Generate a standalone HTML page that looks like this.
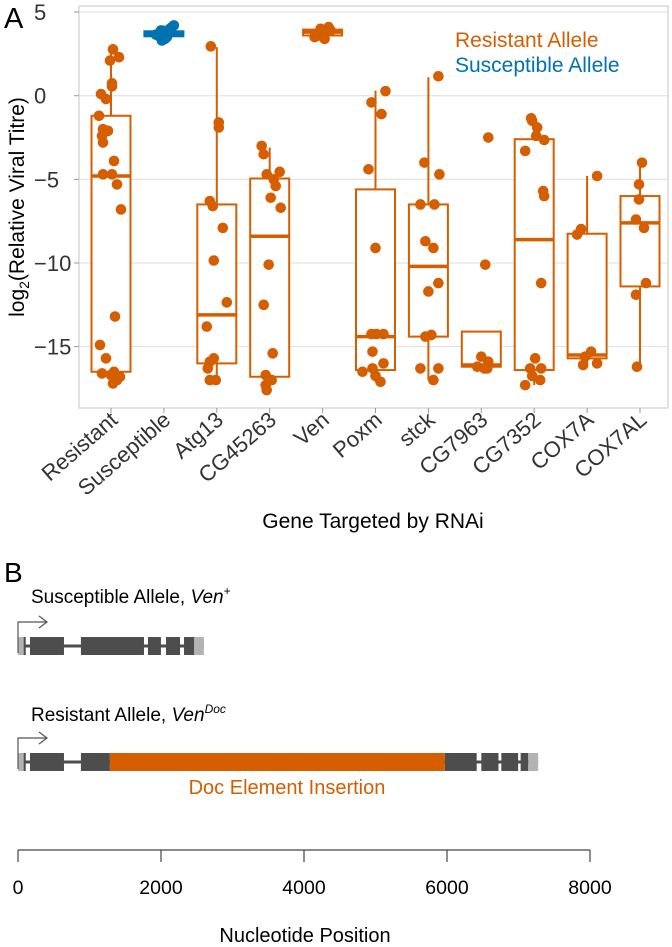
<!DOCTYPE html>
<html><head><meta charset="utf-8">
<style>
html,body{margin:0;padding:0;background:#fff;}
svg{display:block;font-family:"Liberation Sans",Arial,sans-serif;}
</style></head>
<body>
<svg id="fig" width="672" height="947" viewBox="0 0 672 947" xmlns="http://www.w3.org/2000/svg">
<text x="4" y="28" font-size="29">A</text>
<rect x="79" y="6" width="589" height="402" fill="#fff" stroke="#cfcfcf" stroke-width="1.2"/>
<g id="grid"></g>
<g id="yaxis"></g>
<g id="xaxis"></g>
<g id="boxes"></g>
<g id="points"></g>
<text transform="translate(24,207) rotate(-90)" text-anchor="middle" font-size="21">log<tspan font-size="14" dy="5">2</tspan><tspan dy="-5">(Relative Viral Titre)</tspan></text>
<text x="373" y="528" text-anchor="middle" font-size="21">Gene Targeted by RNAi</text>
<text x="455" y="47" font-size="21" fill="#D55E00">Resistant Allele</text>
<text x="455" y="72" font-size="21" fill="#0072B2">Susceptible Allele</text>

<text x="4" y="582" font-size="28">B</text>
<text x="31" y="603" font-size="19">Susceptible Allele, <tspan font-style="italic">Ven</tspan><tspan font-size="12" dy="-8">+</tspan></text>
<text x="31" y="721" font-size="19">Resistant Allele, <tspan font-style="italic">Ven</tspan><tspan font-size="12" font-style="italic" dy="-8">Doc</tspan></text>
<g id="genes"></g>
<text x="287" y="794" text-anchor="middle" font-size="20" fill="#D55E00">Doc Element Insertion</text>
<g id="ntaxis"></g>
<text x="305" y="942" text-anchor="middle" font-size="20">Nucleotide Position</text>
</svg>
<script>
const categories=["Resistant","Susceptible","Atg13","CG45263","Ven","Poxm","stck","CG7963","CG7352","COX7A","COX7AL"];
const catColors=["#D55E00","#0072B2","#D55E00","#D55E00","#D55E00","#D55E00","#D55E00","#D55E00","#D55E00","#D55E00","#D55E00"];
const yTicks=[5,0,-5,-10,-15];
const yTickLabels=["5","0","\u22125","\u221210","\u221215"];
const whiskLo=[-17.2,3.3,-17,-17.6,3.4,-17.1,-17,-16.3,-17.3,-16.1,-16.2];
const q1=[-16.5,3.55,-16,-16.8,3.6,-16.4,-14.4,-16.2,-16.4,-15.7,-11.4];
const medians=[-4.8,3.7,-13.1,-8.4,3.8,-14.4,-10.2,-16.1,-8.6,-15.5,-7.6];
const q3=[-1.2,3.85,-6.5,-4.95,3.95,-5.6,-6.5,-14.1,-2.6,-8.25,-6];
const whiskHi=[2.8,4.2,2.9,-3.1,4.1,0.3,1.1,-14.1,-1.3,-4.8,-4];
const pts0=[2.77,2.1,2.3,0.74,0.56,0.1,-0.2,-1.2,-2,-2.1,-2.4,-2.8,-3.9,-4.7,-4.7,-5.3,-6.8,-13.2,-14.9,-15.7,-16.6,-16.7,-16.5,-17,-17.2,-16.8];
const jit0=[2,-1,8,1,1,-10,-5,-12,-8,-3,-9,-8,3,-8,1,6,10,4,-11,-5,-9,0,3,6,2,9];
const pts1=[3.3,3.5,3.6,3.7,3.8,3.9,4.0,4.1,4.2,3.4,3.65,3.75];
const jit1=[-2,3,-6,0,5,-3,6,8,10,1,-8,4];
const pts2=[2.95,-1.6,-1.9,-6.3,-6.6,-7.9,-9.85,-12.35,-13.8,-15.7,-15.9,-16.3,-17,-17];
const jit2=[-6,2,2,-7,-4,6,-3,10,-10,-3,-7,-9,-7,-1];
const pts3=[-3,-3.5,-4.7,-4.55,-5,-5.4,-6.1,-6.7,-10.1,-12.5,-15.4,-16.7,-17,-17.3,-17.6];
const jit3=[-8,-6,-3,10,4,6,1,11,-1,-6,3,-4,2,-4,-3];
const pts4=[3.5,3.6,3.7,3.8,3.9,4.0,4.1,3.4];
const jit4=[-8,-4,0,4,8,-2,6,2];
const pts5=[0.27,-0.4,-1.1,-4.4,-9.1,-14.25,-14.25,-14.25,-15.3,-16,-16.3,-16.5,-16.75,-17.1];
const jit5=[10,-4,6,-7,0,-4,1,8,-3,8,-3,-13,0,5];
const pts6=[1.16,-4,-4.7,-6.5,-6.5,-8.7,-9.1,-11.2,-11.7,-14.4,-14.3,-16.3,-16.3,-17];
const jit6=[10,-4,11,-8,6,-3,5,10,0,-3,3,-8,10,5];
const pts7=[-2.5,-10.1,-15.6,-15.9,-16.2,-16.3,-16.3];
const jit7=[7,4,0,7,-4,3,6];
const pts8=[-1.35,-1.5,-1.9,-2.4,-2.65,-3.3,-5.7,-6,-11.2,-15.7,-16.3,-16.3,-16.75,-17,-17.3];
const jit8=[-3,-2,3,2,10,-9,9,10,7,1,-4,7,-2,6,-9];
const pts9=[-4.8,-7.97,-8.3,-15.3,-15.6,-16,-16.1];
const jit9=[10,-6,-10,4,-2,10,-4];
const pts10=[-4,-5.3,-6.2,-7.4,-7.9,-11.2,-11.9,-16.2];
const jit10=[2,-1,-1,-4,4,6,-4,-3];
const allPts=[pts0,pts1,pts2,pts3,pts4,pts5,pts6,pts7,pts8,pts9,pts10];
const allJit=[jit0,jit1,jit2,jit3,jit4,jit5,jit6,jit7,jit8,jit9,jit10];
const ntTicks=[0,2000,4000,6000,8000];
const suscUTR=[[0,98],[2462,2600]];
const suscExons=[[168,643],[880,1762],[1818,1999],[2070,2266],[2322,2462]];
const resUTR=[[0,98],[7135,7275]];
const resExons=[[168,643],[880,1285],[5968,6415],[6480,6720],[6760,6995],[7030,7135]];
const docInsert=[[1285,5968]];

const NS="http://www.w3.org/2000/svg";
function mk(tag,attrs,parent){const e=document.createElementNS(NS,tag);for(const k in attrs)e.setAttribute(k,attrs[k]);parent.appendChild(e);return e;}
const yS=v=>95.7-16.73*v;
const xS=i=>111+i*52.9;
const ntS=n=>18+n*0.0715;

const grid=document.getElementById('grid'),yax=document.getElementById('yaxis'),xax=document.getElementById('xaxis');
yTicks.forEach((t,i)=>{
  const g=mk('line',{x1:79,x2:668,y1:yS(t),y2:yS(t),stroke:'#dedede','stroke-width':1},grid);
  
  
  const tk=mk('line',{x1:74,x2:79,y1:yS(t),y2:yS(t),stroke:'#999','stroke-width':1},yax);
  
  
  const tx=mk('text',{x:34,y:yS(t)+8,'font-size':22,fill:'#333'},yax);
  tx.textContent=yTickLabels[i];
  
  
});
categories.forEach((c,i)=>{
  const x=xS(i);
  const tk=mk('line',{x1:x,x2:x,y1:408,y2:413,stroke:'#999','stroke-width':1},xax);
  
  
  const tx=mk('text',{x:x+8,y:422,'font-size':22,fill:'#333','text-anchor':'end',transform:`rotate(-41 ${x+8} 422)`},xax);
  tx.textContent=c;
  
  
});
const boxes=document.getElementById('boxes'),pg=document.getElementById('points');
categories.forEach((c,i)=>{
  const x=xS(i),col=catColors[i],w=39;
  const g=mk('g',{},boxes);
  
  
  mk('line',{x1:x,x2:x,y1:yS(whiskHi[i]),y2:yS(q3[i]),stroke:col,'stroke-width':2},g);
  mk('line',{x1:x,x2:x,y1:yS(q1[i]),y2:yS(whiskLo[i]),stroke:col,'stroke-width':2},g);
  mk('rect',{x:x-w/2,y:yS(q3[i]),width:w,height:Math.max(yS(q1[i])-yS(q3[i]),1),fill:'#fff',stroke:col,'stroke-width':2},g);
  mk('line',{x1:x-w/2,x2:x+w/2,y1:yS(medians[i]),y2:yS(medians[i]),stroke:col,'stroke-width':3.5},g);
  allPts[i].forEach((v,j)=>{
    const p=mk('circle',{cx:x+allJit[i][j],cy:yS(v),r:5.3,fill:col},pg);
    
    
  });
});
const genes=document.getElementById('genes');
function drawGene(top,utr,exons,start,end,name){
  const g=mk('g',{},genes);
  
  
  const mid=top+9;
  mk('line',{x1:ntS(start),x2:ntS(end),y1:mid,y2:mid,stroke:'#4d4d4d','stroke-width':3},g);
  utr.forEach(s=>mk('rect',{x:ntS(s[0]),y:top,width:ntS(s[1])-ntS(s[0]),height:18,fill:'#b3b3b3'},g));
  mk('rect',{x:ntS(80),y:top,width:2,height:18,fill:'#4d4d4d'},g);
  exons.forEach(s=>mk('rect',{x:ntS(s[0]),y:top,width:ntS(s[1])-ntS(s[0]),height:18,fill:'#4d4d4d'},g));
  const ar=mk('path',{d:`M18 ${top+16} V${top-15} H46 M39 ${top-21} L47 ${top-15} L39 ${top-9}`,fill:'none',stroke:'#555','stroke-width':1.2},g);
  
  
}
drawGene(637,suscUTR,suscExons,0,2600,'susceptible-gene');
drawGene(753,resUTR,resExons,0,7275,'resistant-gene');
docInsert.forEach(s=>{
  const r=mk('rect',{x:ntS(s[0]),y:753,width:ntS(s[1])-ntS(s[0]),height:18,fill:'#D55E00'},genes);
  
  
});
const nt=document.getElementById('ntaxis');
mk('line',{x1:ntS(0),x2:ntS(8000),y1:850,y2:850,stroke:'#444','stroke-width':1.2},nt);
ntTicks.forEach(t=>{
  const l=mk('line',{x1:ntS(t),x2:ntS(t),y1:850,y2:862,stroke:'#444','stroke-width':1.2},nt);
  
  
  const tx=mk('text',{x:ntS(t),y:894,'font-size':19.5,'text-anchor':'middle'},nt);
  tx.textContent=String(t);
  
  
});
</script>
</body></html>
